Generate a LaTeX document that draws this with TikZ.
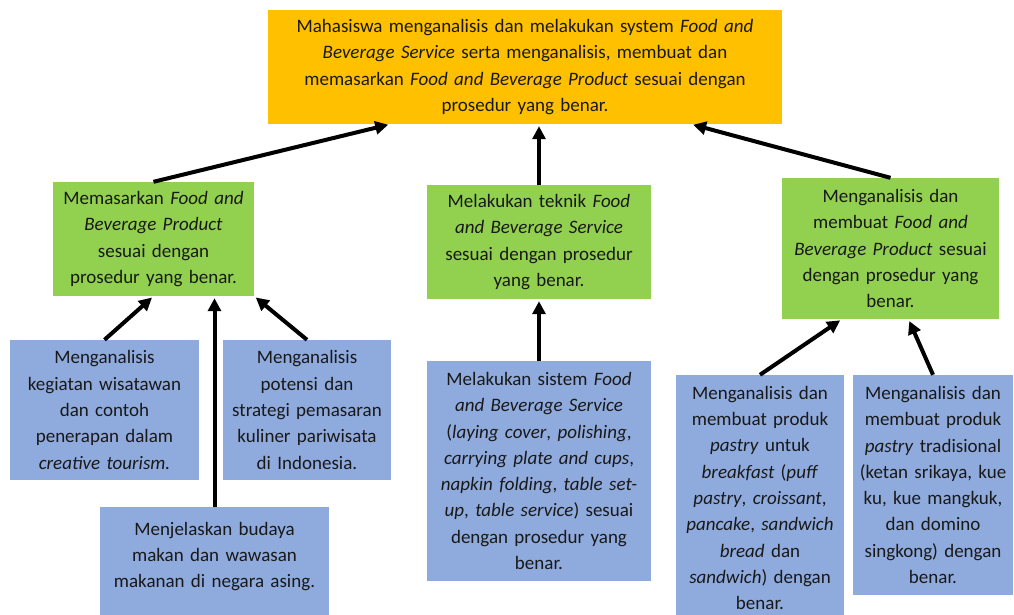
\documentclass[tikz,border=0pt]{standalone}
\usepackage{fontspec}
\setmainfont{Carlito}
\usetikzlibrary{arrows.meta}

\definecolor{gold}{HTML}{FFC000}
\definecolor{leaf}{HTML}{92D050}
\definecolor{sky}{HTML}{8FAADC}

\begin{document}
\begin{tikzpicture}[x=1pt,y=-1pt,>={Triangle[length=13pt,width=13pt]},line join=round,
  box/.style={inner xsep=1pt,inner ysep=3pt,align=center,text=black!90,
    font=\fontsize{19}{26.3}\selectfont},
  arr/.style={->,line width=4pt,shorten >=2pt}]
  \useasboundingbox (0,0) rectangle (1014,614);
  % goal
  \node[box,fill=gold,text width=512pt,minimum height=114pt] (top) at (525,67)
    {Mahasiswa menganalisis dan melakukan system \textit{Food and}\\
     \textit{Beverage Service} serta menganalisis, membuat dan\\
     memasarkan \textit{Food and Beverage Product} sesuai dengan\\
     prosedur yang benar.};
  % second level
  \node[box,fill=leaf,text width=199pt,minimum height=114pt] (g1) at (153.5,239)
    {Memasarkan \textit{Food and}\\ \textit{Beverage Product}\\ sesuai dengan\\ prosedur yang benar.};
  \node[box,fill=leaf,text width=222pt,minimum height=114pt] (g2) at (539,242)
    {Melakukan teknik \textit{Food}\\ \textit{and Beverage Service}\\ sesuai dengan prosedur\\ yang benar.};
  \node[box,fill=leaf,text width=215pt,minimum height=141pt] (g3) at (890.5,248.5)
    {Menganalisis dan\\ membuat \textit{Food and}\\ \textit{Beverage Product} sesuai\\ dengan prosedur yang\\ benar.};
  % third level
  \node[box,fill=sky,text width=187pt,minimum height=140pt] (b1) at (104.5,410)
    {Menganalisis\\ kegiatan wisatawan\\ dan contoh\\ penerapan dalam\\ \textit{creative tourism.}};
  \node[box,fill=sky,text width=166pt,minimum height=140pt] (b2) at (307,410)
    {Menganalisis\\ potensi dan\\ strategi pemasaran\\ kuliner pariwisata\\ di Indonesia.};
  \node[box,fill=sky,text width=227pt,minimum height=122pt] (b3) at (214.5,568)
    {Menjelaskan budaya\\ makan dan wawasan\\ makanan di negara asing.\\ ~};
  \node[box,fill=sky,text width=222pt,minimum height=220pt] (b4) at (539,471)
    {Melakukan sistem \textit{Food}\\ \textit{and Beverage Service}\\
     (\textit{laying cover}, \textit{polishing},\\ \textit{carrying plate and cups},\\
     \textit{napkin folding}, \textit{table set-}\\ \textit{up}, \textit{table service}) sesuai\\
     dengan prosedur yang\\ benar.};
  \node[box,fill=sky,text width=166pt,minimum height=246pt] (b5) at (760,498)
    {Menganalisis dan\\ membuat produk\\ \textit{pastry} untuk\\ \textit{breakfast} (\textit{puff}\\
     \textit{pastry}, \textit{croissant},\\ \textit{pancake}, \textit{sandwich}\\ \textit{bread} dan\\
     \textit{sandwich}) dengan\\ benar.};
  \node[box,fill=sky,text width=158pt,minimum height=220pt] (b6) at (933,485)
    {Menganalisis dan\\ membuat produk\\ \textit{pastry} tradisional\\ (ketan srikaya, kue\\
     ku, kue mangkuk,\\ dan domino\\ singkong) dengan\\ benar.};
  % arrows
  \draw[arr] (g1.north) -- (top.203);
  \draw[arr,line width=3.5pt] (g2.north) -- (g2.north |- top.south);
  \draw[arr] (g3.north) -- (top.341);
  \draw[arr] (b1.north) -- (g1.south);
  \draw[arr] (b3.north) -- (b3.north |- g1.south);
  \draw[arr] (b2.north) -- (g1.south east);
  \draw[arr,line width=3.5pt] (b4.north) -- (g2.south);
  \draw[arr] (b5.north) -- ([xshift=60pt]g3.south west);
  \draw[arr] (b6.north) -- ([xshift=18pt]g3.south);
\end{tikzpicture}
\end{document}
